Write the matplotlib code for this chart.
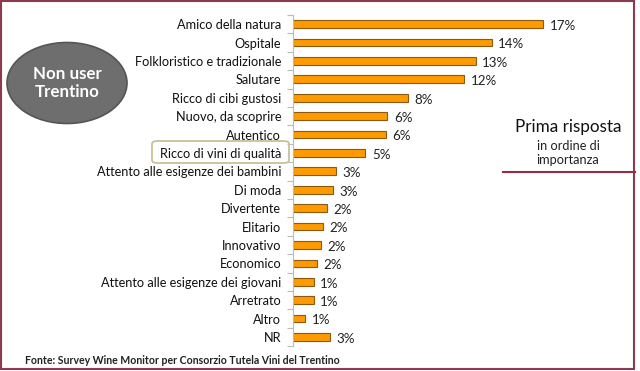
import matplotlib
matplotlib.use("Agg")
import matplotlib.pyplot as plt
from matplotlib.patches import Ellipse, FancyBboxPatch, Rectangle
from matplotlib.lines import Line2D

categories = ["Amico della natura", "Ospitale", "Folkloristico e tradizionale", "Salutare",
              "Ricco di cibi gustosi", "Nuovo, da scoprire", "Autentico", "Ricco di vini di qualità",
              "Attento alle esigenze dei bambini", "Di moda", "Divertente", "Elitario",
              "Innovativo", "Economico", "Attento alle esigenze dei giovani", "Arretrato",
              "Altro", "NR"]
values = [17.0, 13.5, 12.4, 11.6, 7.8, 6.4, 6.3, 4.9, 2.9, 2.7, 2.3, 2.0, 1.9, 1.6, 1.4, 1.4, 0.8, 2.5]
labels = ["17%", "14%", "13%", "12%", "8%", "6%", "6%", "5%", "3%", "3%", "2%", "2%",
          "2%", "2%", "1%", "1%", "1%", "3%"]

plt.rcParams['font.family'] = ['Lato', 'DejaVu Sans']

fig = plt.figure(figsize=(6.4, 3.71), dpi=100)
fig.patch.set_facecolor("white")
ax = fig.add_axes([0.458, 0.0668, 0.492, 0.893])

y = list(range(len(categories)))
ax.barh(y, values, height=0.42, color="#FF9A00", edgecolor="#8a5a10", linewidth=0.8)
ax.set_ylim(len(categories) - 0.5, -0.5)
ax.set_xlim(0, 21.4)

for yi, v, lab in zip(y, values, labels):
    ax.text(v + 0.45, yi + 0.1, lab, va="center", ha="left", fontsize=9.6, color="#222222")

ax.set_yticks([i + 0.5 for i in range(-1, len(categories))])
ax.set_yticklabels([])
ax.set_yticks(y, minor=True)
ax.set_yticklabels(categories, minor=True, fontsize=9.2, color="#111111")
ax.tick_params(axis="y", which="major", length=4, color="#bbbbbb", width=0.8)
ax.tick_params(axis="y", which="minor", length=0, pad=8.5)
ax.set_xticks([])
for s in ["top", "right", "bottom"]:
    ax.spines[s].set_visible(False)
ax.spines["left"].set_color("#bbbbbb")
ax.spines["left"].set_linewidth(0.8)

# Ellipse with label
ell = Ellipse((67 / 640, 1 - 83 / 371), 120 / 640, 81 / 371, transform=fig.transFigure,
              facecolor="#6e6e6e", edgecolor="#555555", linewidth=1.2)
fig.patches.append(ell)
fig.text(67 / 640, 1 - 83 / 371, "Non user\nTrentino", ha="center", va="center",
         color="white", fontsize=12.2, fontweight="bold", linespacing=1.15)

# Highlight box
box = FancyBboxPatch((152 / 640, 1 - 163 / 371), 137 / 640, 22 / 371,
                     boxstyle="round,pad=0,rounding_size=0.008", transform=fig.transFigure,
                     facecolor="none", edgecolor="#c8c09a", linewidth=1.3)
fig.patches.append(box)

# Right annotation
fig.text(568 / 640, 1 - 127 / 371, "Prima risposta", ha="center", va="center",
         fontsize=12.3, color="#111111")
fig.text(568 / 640, 1 - 153 / 371, "in ordine di\nimportanza", ha="center", va="center",
         fontsize=9.2, color="#222222", linespacing=1.15)
fig.lines.append(Line2D([503 / 640, 635 / 640], [1 - 172 / 371, 1 - 172 / 371],
                        transform=fig.transFigure, color="#9b2a45", linewidth=1.5))

# Footer
fig.text(25 / 640, 1 - 361 / 371, "Fonte: Survey Wine Monitor per Consorzio Tutela Vini del Trentino",
         ha="left", va="center", fontsize=7.6, color="#222222", fontweight="bold")

# Border
fig.patches.append(Rectangle((1 / 640, 2 / 371), 633 / 640, 368 / 371, transform=fig.transFigure,
                             facecolor="none", edgecolor="#8e3a4e", linewidth=1.5))

fig.savefig("out.png", dpi=100)
